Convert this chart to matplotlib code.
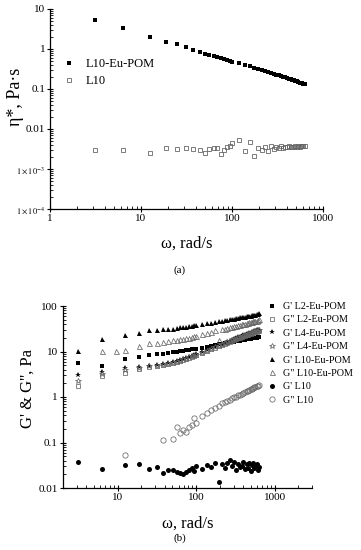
import numpy as np
import matplotlib
matplotlib.use("Agg")
import matplotlib.pyplot as plt
from matplotlib.ticker import LogLocator, FixedLocator, FixedFormatter, NullFormatter

plt.rcParams['font.family'] = ['Liberation Serif', 'DejaVu Serif']
plt.rcParams['mathtext.fontset'] = 'stix'

nan = np.nan

# angular frequency grid (rad/s)
omega = [3.14, 6.28, 9.42, 12.57, 18.85, 25.13, 31.42, 37.70, 43.98, 50.27, 56.55,
         62.83, 69.12, 75.40, 81.68, 87.96, 94.25, 100.5, 119.4, 138.2, 157.1,
         175.9, 194.8, 213.6, 232.5, 251.3, 270.2, 289.0, 307.9, 326.7, 345.6,
         364.4, 383.3, 402.1, 421.0, 439.8, 458.7, 477.5, 496.4, 515.2, 534.1,
         552.9, 571.8, 590.6, 609.5, 628.3]

# (a) complex viscosity, Pa·s
eta_L10EuPOM = [5.3, 3.4, nan, 2.0, 1.47, 1.35, 1.10, 0.95, 0.82, 0.74, 0.70,
                0.66, 0.62, 0.59, 0.56, 0.53, 0.50, 0.47, 0.44, 0.40, 0.37,
                0.33, 0.31, 0.30, 0.29, 0.27, 0.25, 0.24, 0.23, 0.22, 0.21,
                0.20, 0.195, 0.19, 0.18, 0.175, 0.17, 0.165, 0.16, 0.155, 0.15,
                0.145, 0.14, 0.14, 0.135, 0.135]
eta_L10 = [0.0030, 0.0030, nan, 0.0025, 0.0034, 0.0031, 0.0033, 0.0032, 0.0030, 0.0025, 0.0032,
           0.0033, 0.0034, 0.0024, 0.0030, 0.0036, 0.0038, 0.0045, 0.0052, 0.0028, 0.0047,
           0.0021, 0.0033, 0.0030, 0.0035, 0.0029, 0.0038, 0.0031, 0.0036, 0.0033, 0.0037,
           0.0034, 0.0036, 0.0035, 0.0037, 0.0035, 0.0036, 0.0036, 0.0037, 0.0036, 0.0037,
           0.0036, 0.0037, 0.0037, 0.0038, 0.0037]

# (b) moduli, Pa
Gp_L2 = [5.5, 4.8, nan, 6.7, 7.4, 8.4, 8.7, 9.0, 9.3, 9.6, 9.9,
         10.2, 10.5, 10.7, 11.0, 11.2, 11.4, 11.6, 12.2, 12.8, 13.3,
         13.8, 14.3, 14.7, 15.1, 15.5, 15.9, 16.2, 16.5, 16.8, 17.1,
         17.4, 17.7, 18.0, 18.2, 18.5, 18.7, 19.0, 19.2, 19.4, 19.6,
         19.8, 20.0, 20.2, 20.4, 20.6]
Gpp_L2 = [1.75, 2.9, nan, 3.3, 4.2, 4.6, 4.8, 5.0, 5.2, 5.5, 5.8,
          6.2, 6.5, 6.8, 7.2, 7.6, 7.9, 8.2, 9.3, 10.3, 11.2,
          12.2, 13.0, 13.9, 14.7, 15.6, 16.4, 17.2, 18.0, 18.7, 19.4,
          20.0, 20.8, 21.5, 22.1, 22.8, 23.4, 24.0, 24.6, 25.2, 25.8,
          26.4, 27.0, 27.5, 28.1, 28.7]
Gp_L4 = [3.0, 3.5, nan, 4.3, 4.5, 4.9, 5.1, 5.3, 5.5, 5.8, 6.1,
         6.5, 6.9, 7.2, 7.6, 8.0, 8.4, 8.7, 9.8, 10.8, 11.8,
         12.8, 13.7, 14.6, 15.5, 16.4, 17.3, 18.1, 18.9, 19.7, 20.4,
         21.1, 21.9, 22.6, 23.3, 24.0, 24.6, 25.3, 25.9, 26.6, 27.2,
         27.8, 28.4, 29.0, 29.6, 30.2]
Gpp_L4 = [2.2, 3.2, nan, 4.0, 4.3, 4.7, 4.9, 5.1, 5.4, 5.6, 5.9,
          6.3, 6.7, 7.0, 7.4, 7.8, 8.1, 8.5, 9.5, 10.5, 11.5,
          12.4, 13.3, 14.2, 15.1, 15.9, 16.8, 17.6, 18.4, 19.1, 19.8,
          20.5, 21.3, 22.0, 22.6, 23.3, 23.9, 24.6, 25.2, 25.8, 26.4,
          27.0, 27.6, 28.2, 28.8, 29.3]
Gp_L10EuPOM = [10.5, 18.5, nan, 23, 25.5, 30, 30, 31, 31, 32, 33,
               34, 34, 35, 36, 37, 38, 39, 40, 42, 43,
               45, 46, 48, 49, 50, 51, 52, 53, 54, 55,
               56, 57, 58, 58, 59, 60, 61, 61, 62, 63,
               64, 65, 66, 67, 70]
Gpp_L10EuPOM = [nan, 10.5, 10.5, 11, 13, 15, 15, 16, 17, 17.5, 18,
                19, 19, 20, 20, 21, 22, 22, 24, 26, 27,
                29, 18, 31, 32, 33, 34, 35, 36, 37, 38,
                39, 40, 41, 41, 42, 43, 44, 44, 45, 46,
                46, 47, 48, 49, 52]
Gp_L10 = [0.037, 0.026, nan, 0.032, 0.033, 0.026, 0.029, 0.021, 0.025, 0.025, 0.023,
          0.021, 0.020, 0.022, 0.025, 0.028, 0.024, 0.030, 0.026, 0.032, 0.029,
          0.035, 0.0137, 0.033, 0.028, 0.036, 0.042, 0.030, 0.038, 0.025, 0.034,
          0.029, 0.031, 0.037, 0.026, 0.033, 0.028, 0.035, 0.024, 0.032, 0.036,
          0.027, 0.030, 0.034, 0.025, 0.029]
Gpp_L10 = [nan, nan, nan, 0.053, nan, nan, nan, 0.115, nan, 0.12, 0.22,
           0.16, 0.19, 0.17, 0.22, 0.24, 0.34, 0.27, 0.38, 0.45, 0.52,
           0.58, 0.65, 0.72, 0.76, 0.82, 0.88, 0.95, 0.98, 1.02, 1.08,
           1.12, 1.18, 1.22, 1.28, 1.33, 1.38, 1.42, 1.48, 1.52, 1.58,
           1.63, 1.68, 1.72, 1.78, 1.85]

labels_a = ['L10-Eu-POM', 'L10']
labels_b = ["G' L2-Eu-POM", "G\" L2-Eu-POM", "G' L4-Eu-POM", "G\" L4-Eu-POM",
            "G' L10-Eu-POM", "G\" L10-Eu-POM", "G' L10", "G\" L10"]

W, H = 361, 550
fig = plt.figure(figsize=(W / 100, H / 100), dpi=100)

def px_axes(l, t, r, b):
    return fig.add_axes([l / W, 1 - b / H, (r - l) / W, (b - t) / H])

OPEN = '#666666'

def style(ax):
    for s in ['top', 'right']:
        ax.spines[s].set_visible(False)
    for s in ['left', 'bottom']:
        ax.spines[s].set_linewidth(0.9)
    ax.tick_params(which='major', direction='inout', length=4, width=0.8, labelsize=8, pad=1.5)
    ax.tick_params(which='minor', direction='in', length=2, width=0.6)

# ---------- (a) ----------
ax1 = px_axes(50, 9, 323, 209)
ax1.set_xscale('log'); ax1.set_yscale('log')
ax1.plot(omega, eta_L10EuPOM, ls='none', marker='s', ms=3.3, mew=0, color='black', label=labels_a[0])
ax1.plot(omega, eta_L10, ls='none', marker='s', ms=3.2, mfc='none', mec=OPEN, mew=0.6, label=labels_a[1])
ax1.set_xlim(1, 1000)
ax1.set_ylim(1e-4, 10)
style(ax1)
yt = [1e-4, 1e-3, 0.01, 0.1, 1, 10]
ax1.yaxis.set_major_locator(FixedLocator(yt))
ax1.yaxis.set_major_formatter(FixedFormatter([r'$1\times10^{-4}$', r'$1\times10^{-3}$', '0.01', '0.1', '1', '10']))
ax1.yaxis.set_minor_locator(LogLocator(base=10, subs=np.arange(2, 10), numticks=20))
ax1.yaxis.set_minor_formatter(NullFormatter())
xt = [1, 10, 100, 1000]
ax1.xaxis.set_major_locator(FixedLocator(xt))
ax1.xaxis.set_major_formatter(FixedFormatter(['1', '10', '100', '1000']))
ax1.xaxis.set_minor_locator(LogLocator(base=10, subs=np.arange(2, 10), numticks=20))
ax1.xaxis.set_minor_formatter(NullFormatter())
for lab in ax1.get_yticklabels()[:2]:
    lab.set_fontsize(6)
fig.text(15 / W, 1 - 97 / H, 'η*, Pa·s', rotation=90, ha='center', va='center', fontsize=13)
ax1.set_xlabel('ω, rad/s', fontsize=12, labelpad=9)
ax1.legend(loc='upper left', bbox_to_anchor=(63 / W, 1 - 58 / H), bbox_transform=fig.transFigure,
           frameon=False, fontsize=9, handlelength=1.0, handletextpad=0.8, labelspacing=0.4,
           borderpad=0, borderaxespad=0)
fig.text(180 / W, 1 - 270 / H, '(a)', ha='center', va='center', fontsize=8)

# ---------- (b) ----------
ax2 = px_axes(62.7, 306, 312, 488)
ax2.set_xscale('log'); ax2.set_yscale('log')
ms = 3.1
ax2.plot(omega, Gp_L2, ls='none', marker='s', ms=ms, mew=0, color='black', label=labels_b[0])
ax2.plot(omega, Gpp_L2, ls='none', marker='s', ms=ms, mfc='none', mec=OPEN, mew=0.55, label=labels_b[1])
ax2.plot(omega, Gp_L4, ls='none', marker='*', ms=ms + 1.3, mew=0, color='black', label=labels_b[2])
ax2.plot(omega, Gpp_L4, ls='none', marker='*', ms=ms + 1.3, mfc='none', mec=OPEN, mew=0.55, label=labels_b[3])
ax2.plot(omega, Gp_L10EuPOM, ls='none', marker='^', ms=ms + 0.5, mew=0, color='black', label=labels_b[4])
ax2.plot(omega, Gpp_L10EuPOM, ls='none', marker='^', ms=ms + 0.5, mfc='none', mec=OPEN, mew=0.55, label=labels_b[5])
ax2.plot(omega, Gp_L10, ls='none', marker='o', ms=ms + 0.5, mew=0, color='black', label=labels_b[6])
ax2.plot(omega, Gpp_L10, ls='none', marker='o', ms=ms + 0.7, mfc='none', mec=OPEN, mew=0.55, label=labels_b[7])
ax2.set_xlim(2, 3000)
ax2.set_ylim(0.01, 100)
style(ax2)
ax2.yaxis.set_major_locator(FixedLocator([0.01, 0.1, 1, 10, 100]))
ax2.yaxis.set_major_formatter(FixedFormatter(['0.01', '0.1', '1', '10', '100']))
ax2.yaxis.set_minor_locator(LogLocator(base=10, subs=np.arange(2, 10), numticks=20))
ax2.yaxis.set_minor_formatter(NullFormatter())
ax2.xaxis.set_major_locator(FixedLocator([10, 100, 1000]))
ax2.xaxis.set_major_formatter(FixedFormatter(['10', '100', '1000']))
ax2.xaxis.set_minor_locator(LogLocator(base=10, subs=np.arange(2, 10), numticks=20))
ax2.xaxis.set_minor_formatter(NullFormatter())
fig.text(28 / W, 1 - 388 / H, "G' & G'', Pa", rotation=90, ha='center', va='center', fontsize=12)
ax2.set_xlabel('ω, rad/s', fontsize=12, labelpad=10)
ax2.legend(loc='upper left', bbox_to_anchor=(267 / W, 1 - 302 / H), bbox_transform=fig.transFigure,
           frameon=False, fontsize=7.3, handlelength=1.0, handletextpad=0.6, labelspacing=0.42,
           borderpad=0, borderaxespad=0)
fig.text(180 / W, 1 - 538 / H, '(b)', ha='center', va='center', fontsize=8)

fig.savefig('out.png', dpi=100)
